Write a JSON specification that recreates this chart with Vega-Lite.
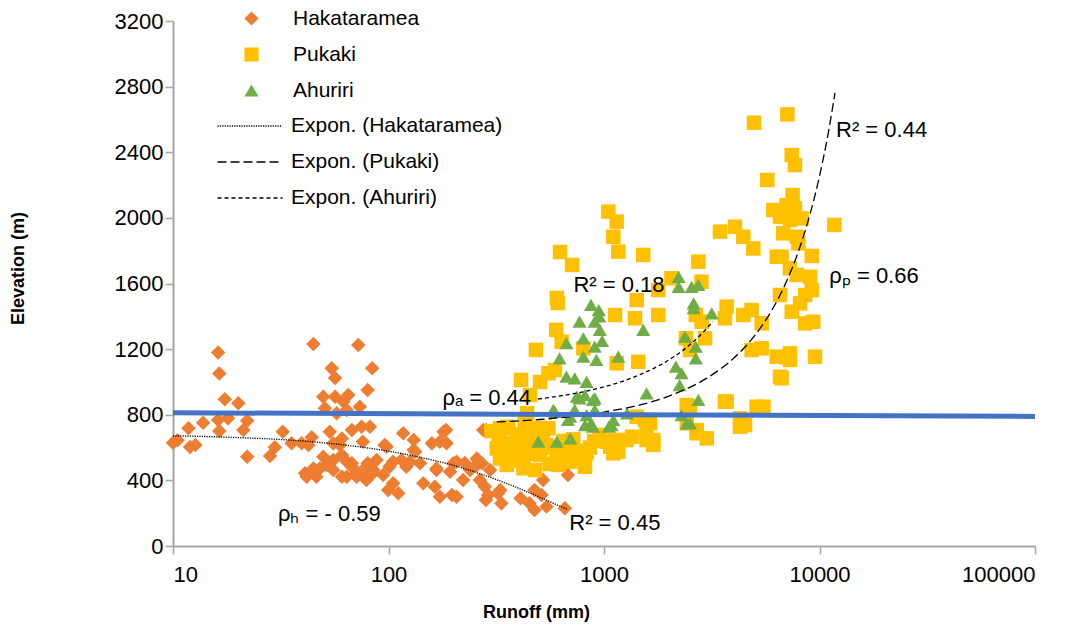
{
"$schema": "https://vega.github.io/schema/vega-lite/v6.json",
"width": 862, "height": 525,
"autosize": {"type": "none"},
"padding": {"left": 173, "top": 21, "right": 49, "bottom": 84},
"background": "white",
"config": {
  "view": {"stroke": null},
  "font": "Liberation Sans",
  "axis": {"grid": false, "domainColor": "#a6a6a6", "domainWidth": 2, "tickColor": "#a6a6a6", "tickWidth": 1.5, "tickSize": 8, "labelFont": "Liberation Sans", "labelFontSize": 22, "labelColor": "#000000", "titleFont": "Liberation Sans", "titleFontSize": 18, "titleFontWeight": "bold", "titleColor": "#000000"},
  "legend": {"title": null, "orient": "none", "padding": 0, "rowPadding": 14, "labelFontSize": 21, "labelFont": "Liberation Sans", "labelColor": "#000000", "labelLimit": 0}
},
"encoding": {
  "x": {"field": "runoff", "type": "quantitative", "scale": {"type": "log", "domain": [10, 100000], "nice": false},
        "axis": {"title": "Runoff (mm)", "values": [10, 100, 1000, 10000, 100000], "format": "d", "labelPadding": 10, "titleX": 363, "titleY": 66, "titleBaseline": "middle", "titleAlign": "center"}},
  "y": {"field": "elev", "type": "quantitative", "scale": {"domain": [0, 3200], "nice": false, "zero": false},
        "axis": {"title": "Elevation (m)", "values": [0, 400, 800, 1200, 1600, 2000, 2400, 2800, 3200], "format": "d", "labelPadding": 2, "titleX": -155, "titleY": 247, "titleBaseline": "middle", "titleAlign": "center"}}
},
"layer": [
  {
    "data": {"values": [{"runoff":10,"elev":630},{"runoff":10.5,"elev":645},{"runoff":11.8,"elev":717},{"runoff":12,"elev":603},{"runoff":12.7,"elev":615},{"runoff":13.8,"elev":751},{"runoff":16.2,"elev":1180},{"runoff":16.4,"elev":1052},{"runoff":17.4,"elev":894},{"runoff":16.2,"elev":768},{"runoff":18,"elev":778},{"runoff":16.4,"elev":701},{"runoff":20.1,"elev":870},{"runoff":22.1,"elev":764},{"runoff":21.2,"elev":707},{"runoff":22.1,"elev":544},{"runoff":28.2,"elev":549},{"runoff":29.7,"elev":602},{"runoff":32.3,"elev":697},{"runoff":35.5,"elev":626},{"runoff":39.5,"elev":626},{"runoff":44,"elev":663},{"runoff":42.5,"elev":616},{"runoff":41,"elev":443},{"runoff":44.8,"elev":1231},{"runoff":49.8,"elev":544},{"runoff":48,"elev":473},{"runoff":53.4,"elev":697},{"runoff":55.4,"elev":626},{"runoff":49.8,"elev":910},{"runoff":50.7,"elev":839},{"runoff":56.5,"elev":910},{"runoff":57.5,"elev":809},{"runoff":54.5,"elev":1083},{"runoff":56.5,"elev":1024},{"runoff":61.7,"elev":880},{"runoff":65,"elev":920},{"runoff":64,"elev":829},{"runoff":60.8,"elev":656},{"runoff":59.5,"elev":616},{"runoff":67.6,"elev":707},{"runoff":73.6,"elev":849},{"runoff":72.4,"elev":1225},{"runoff":84,"elev":1083},{"runoff":80,"elev":951},{"runoff":75,"elev":727},{"runoff":76,"elev":636},{"runoff":82,"elev":727},{"runoff":60.8,"elev":555},{"runoff":55.4,"elev":524},{"runoff":64,"elev":422},{"runoff":67.6,"elev":504},{"runoff":71,"elev":443},{"runoff":79,"elev":402},{"runoff":83.5,"elev":473},{"runoff":41.7,"elev":422},{"runoff":46.3,"elev":422},{"runoff":44.8,"elev":473},{"runoff":51.6,"elev":494},{"runoff":55.4,"elev":463},{"runoff":60.8,"elev":422},{"runoff":64,"elev":514},{"runoff":67.6,"elev":483},{"runoff":71.1,"elev":422},{"runoff":76.2,"elev":463},{"runoff":80,"elev":504},{"runoff":84.6,"elev":443},{"runoff":98,"elev":605},{"runoff":117,"elev":687},{"runoff":131,"elev":646},{"runoff":96,"elev":616},{"runoff":180,"elev":697},{"runoff":159,"elev":626},{"runoff":173,"elev":636},{"runoff":133,"elev":575},{"runoff":131,"elev":585},{"runoff":140,"elev":504},{"runoff":126,"elev":514},{"runoff":115,"elev":524},{"runoff":105,"elev":514},{"runoff":101,"elev":483},{"runoff":121,"elev":483},{"runoff":88,"elev":524},{"runoff":85,"elev":463},{"runoff":94.5,"elev":433},{"runoff":105,"elev":382},{"runoff":111,"elev":321},{"runoff":99.6,"elev":341},{"runoff":145,"elev":382},{"runoff":164,"elev":361},{"runoff":173,"elev":300},{"runoff":167,"elev":463},{"runoff":193,"elev":453},{"runoff":207,"elev":514},{"runoff":197,"elev":311},{"runoff":207,"elev":300},{"runoff":222,"elev":402},{"runoff":239,"elev":463},{"runoff":257,"elev":494},{"runoff":260,"elev":524},{"runoff":275,"elev":707},{"runoff":265,"elev":402},{"runoff":280,"elev":361},{"runoff":290,"elev":311},{"runoff":322,"elev":321},{"runoff":334,"elev":260},{"runoff":283,"elev":280},{"runoff":410,"elev":291},{"runoff":451,"elev":260},{"runoff":476,"elev":219},{"runoff":476,"elev":341},{"runoff":522,"elev":402},{"runoff":513,"elev":311},{"runoff":541,"elev":240},{"runoff":658,"elev":230},{"runoff":680,"elev":433},{"runoff":257,"elev":534},{"runoff":185,"elev":707},{"runoff":284,"elev":707},{"runoff":271,"elev":504},{"runoff":200,"elev":504},{"runoff":186,"elev":626},{"runoff":226,"elev":506},{"runoff":296,"elev":463},{"runoff":330,"elev":341},{"runoff":167,"elev":473}]},
    "mark": {"type": "point", "filled": true, "opacity": 1, "size": 210},
    "encoding": {
      "color": {"datum": "Hakataramea", "type": "nominal", "scale": {"domain": ["Hakataramea", "Pukaki", "Ahuriri"], "range": ["#ED7D31", "#FFC000", "#70AD47"]},
                "legend": {"legendX": 68, "legendY": -13, "labelOffset": 31, "symbolSize": 200, "symbolStrokeWidth": 0, "symbolOpacity": 1}},
      "shape": {"datum": "Hakataramea", "type": "nominal", "scale": {"domain": ["Hakataramea", "Pukaki", "Ahuriri"], "range": ["diamond", "square", "triangle-up"]},
                "legend": {"legendX": 68, "legendY": -13, "labelOffset": 31, "symbolSize": 200, "symbolStrokeWidth": 0, "symbolOpacity": 1}}
    }
  },
  {
    "data": {"values": [{"runoff":625,"elev":1792},{"runoff":711,"elev":1713},{"runoff":604,"elev":1512},{"runoff":610,"elev":1481},{"runoff":600,"elev":1317},{"runoff":483,"elev":1195},{"runoff":412,"elev":1012},{"runoff":505,"elev":1000},{"runoff":454,"elev":920},{"runoff":1047,"elev":2038},{"runoff":1145,"elev":1977},{"runoff":1105,"elev":1885},{"runoff":1165,"elev":1794},{"runoff":1521,"elev":1774},{"runoff":2740,"elev":1733},{"runoff":3452,"elev":1916},{"runoff":4055,"elev":1946},{"runoff":4430,"elev":1885},{"runoff":4931,"elev":1814},{"runoff":6107,"elev":2048},{"runoff":6330,"elev":1763},{"runoff":2055,"elev":1632},{"runoff":2833,"elev":1611},{"runoff":1786,"elev":1560},{"runoff":1418,"elev":1499},{"runoff":1125,"elev":1408},{"runoff":1393,"elev":1388},{"runoff":1786,"elev":1408},{"runoff":2666,"elev":1408},{"runoff":2840,"elev":1367},{"runoff":3707,"elev":1459},{"runoff":3641,"elev":1388},{"runoff":4430,"elev":1408},{"runoff":4842,"elev":1438},{"runoff":5391,"elev":1357},{"runoff":2944,"elev":1266},{"runoff":2506,"elev":1195},{"runoff":4842,"elev":1195},{"runoff":5391,"elev":1205},{"runoff":6330,"elev":1154},{"runoff":1443,"elev":1123},{"runoff":636,"elev":1245},{"runoff":802,"elev":1205},{"runoff":1145,"elev":1114},{"runoff":552,"elev":1053},{"runoff":592,"elev":1073},{"runoff":3641,"elev":880},{"runoff":2421,"elev":859},{"runoff":2692,"elev":707},{"runoff":4276,"elev":727},{"runoff":1549,"elev":768},{"runoff":1576,"elev":687},{"runoff":354,"elev":727},{"runoff":329,"elev":666},{"runoff":380,"elev":626},{"runoff":1418,"elev":788},{"runoff":1633,"elev":748},{"runoff":1693,"elev":646},{"runoff":1693,"elev":616},{"runoff":1576,"elev":646},{"runoff":957,"elev":656},{"runoff":1125,"elev":646},{"runoff":1068,"elev":605},{"runoff":1165,"elev":575},{"runoff":1273,"elev":646},{"runoff":1350,"elev":666},{"runoff":830,"elev":565},{"runoff":816,"elev":483},{"runoff":697,"elev":544},{"runoff":697,"elev":605},{"runoff":650,"elev":524},{"runoff":2506,"elev":849},{"runoff":2692,"elev":687},{"runoff":3000,"elev":656},{"runoff":2421,"elev":748},{"runoff":3707,"elev":880},{"runoff":4276,"elev":778},{"runoff":4510,"elev":737},{"runoff":5108,"elev":849},{"runoff":4966,"elev":2580},{"runoff":7094,"elev":2631},{"runoff":7433,"elev":2383},{"runoff":7695,"elev":2322},{"runoff":5724,"elev":2231},{"runoff":7500,"elev":2139},{"runoff":7038,"elev":2078},{"runoff":7695,"elev":2058},{"runoff":6556,"elev":2007},{"runoff":7291,"elev":1987},{"runoff":8265,"elev":1997},{"runoff":6792,"elev":1906},{"runoff":7834,"elev":1885},{"runoff":7980,"elev":1845},{"runoff":11721,"elev":1957},{"runoff":6668,"elev":1763},{"runoff":9206,"elev":1768},{"runoff":7291,"elev":1693},{"runoff":7834,"elev":1652},{"runoff":9036,"elev":1641},{"runoff":9206,"elev":1560},{"runoff":8578,"elev":1530},{"runoff":6556,"elev":1530},{"runoff":7433,"elev":1428},{"runoff":8128,"elev":1479},{"runoff":8578,"elev":1357},{"runoff":9354,"elev":1367},{"runoff":7291,"elev":1174},{"runoff":7291,"elev":1134},{"runoff":6556,"elev":1032},{"runoff":9527,"elev":1154},{"runoff":5495,"elev":849},{"runoff":6668,"elev":1022},{"runoff":7000,"elev":1150},{"runoff":2400,"elev":1266},{"runoff":329,"elev":717},{"runoff":360,"elev":717},{"runoff":429,"elev":748},{"runoff":440,"elev":809},{"runoff":552,"elev":717},{"runoff":324,"elev":656},{"runoff":318,"elev":595},{"runoff":329,"elev":534},{"runoff":354,"elev":494},{"runoff":380,"elev":616},{"runoff":402,"elev":555},{"runoff":423,"elev":474},{"runoff":479,"elev":463},{"runoff":423,"elev":677},{"runoff":505,"elev":555},{"runoff":541,"elev":616},{"runoff":604,"elev":555},{"runoff":614,"elev":494},{"runoff":697,"elev":514},{"runoff":802,"elev":534},{"runoff":957,"elev":677},{"runoff":1030,"elev":636},{"runoff":1105,"elev":565},{"runoff":360,"elev":600},{"runoff":400,"elev":680},{"runoff":450,"elev":650},{"runoff":470,"elev":560},{"runoff":520,"elev":660},{"runoff":560,"elev":500},{"runoff":580,"elev":600},{"runoff":640,"elev":590},{"runoff":750,"elev":580},{"runoff":300,"elev":700},{"runoff":340,"elev":560},{"runoff":390,"elev":520},{"runoff":430,"elev":600},{"runoff":460,"elev":700},{"runoff":500,"elev":720},{"runoff":650,"elev":640},{"runoff":720,"elev":650},{"runoff":860,"elev":600},{"runoff":900,"elev":640}]},
    "mark": {"type": "point", "filled": true, "opacity": 1, "size": 210},
    "encoding": {
      "color": {"datum": "Pukaki", "type": "nominal"},
      "shape": {"datum": "Pukaki", "type": "nominal"}
    }
  },
  {
    "data": {"values": [{"runoff":496,"elev":636},{"runoff":604,"elev":636},{"runoff":697,"elev":656},{"runoff":592,"elev":818},{"runoff":680,"elev":768},{"runoff":731,"elev":829},{"runoff":770,"elev":900},{"runoff":889,"elev":890},{"runoff":906,"elev":829},{"runoff":816,"elev":737},{"runoff":870,"elev":748},{"runoff":1053,"elev":727},{"runoff":1105,"elev":768},{"runoff":870,"elev":1469},{"runoff":946,"elev":1438},{"runoff":770,"elev":1367},{"runoff":906,"elev":1367},{"runoff":957,"elev":1317},{"runoff":802,"elev":1266},{"runoff":669,"elev":1236},{"runoff":906,"elev":1215},{"runoff":802,"elev":1154},{"runoff":622,"elev":1144},{"runoff":922,"elev":1134},{"runoff":1165,"elev":1154},{"runoff":1521,"elev":1317},{"runoff":2219,"elev":1641},{"runoff":2219,"elev":1580},{"runoff":2553,"elev":1580},{"runoff":2740,"elev":1591},{"runoff":2606,"elev":1479},{"runoff":2606,"elev":1450},{"runoff":3162,"elev":1418},{"runoff":2377,"elev":1276},{"runoff":2666,"elev":1215},{"runoff":2666,"elev":1144},{"runoff":2155,"elev":1093},{"runoff":2289,"elev":1053},{"runoff":2243,"elev":981},{"runoff":1576,"elev":930},{"runoff":2740,"elev":890},{"runoff":669,"elev":1032},{"runoff":731,"elev":1022},{"runoff":830,"elev":1001},{"runoff":748,"elev":910},{"runoff":816,"elev":920},{"runoff":906,"elev":900},{"runoff":582,"elev":829},{"runoff":697,"elev":788},{"runoff":830,"elev":798},{"runoff":889,"elev":727},{"runoff":1083,"elev":737},{"runoff":1280,"elev":809},{"runoff":2289,"elev":798},{"runoff":2421,"elev":748},{"runoff":2506,"elev":748},{"runoff":950,"elev":1400},{"runoff":980,"elev":1250}]},
    "mark": {"type": "point", "filled": true, "opacity": 1, "size": 200},
    "encoding": {
      "color": {"datum": "Ahuriri", "type": "nominal"},
      "shape": {"datum": "Ahuriri", "type": "nominal"}
    }
  },
  {
    "data": {"values": [{"runoff":10,"elev":672},{"runoff":20,"elev":661},{"runoff":40,"elev":640},{"runoff":70,"elev":608},{"runoff":100,"elev":578},{"runoff":150,"elev":532},{"runoff":200,"elev":492},{"runoff":300,"elev":416},{"runoff":400,"elev":353},{"runoff":500,"elev":299},{"runoff":600,"elev":253},{"runoff":680,"elev":222}]},
    "mark": {"type": "line", "color": "#000000", "strokeWidth": 1.3, "interpolate": "monotone"},
    "encoding": {
      "strokeDash": {"datum": "Expon. (Hakataramea)", "type": "nominal",
        "scale": {"domain": ["Expon. (Hakataramea)", "Expon. (Pukaki)", "Expon. (Ahuriri)"], "range": [[1.2, 1.2], [9, 4], [4, 3]]},
        "legend": {"legendX": 63, "legendY": 91, "labelOffset": 27, "rowPadding": 12, "symbolType": "M-2.5,0L2.5,0", "symbolSize": 676, "symbolStrokeColor": "#000000", "symbolStrokeWidth": 1.3}}
    }
  },
  {
    "data": {"values": [{"runoff":318,"elev":756},{"runoff":500,"elev":771},{"runoff":1000,"elev":816},{"runoff":2000,"elev":914},{"runoff":3000,"elev":1023},{"runoff":4000,"elev":1145},{"runoff":5000,"elev":1282},{"runoff":6000,"elev":1435},{"runoff":7000,"elev":1607},{"runoff":8000,"elev":1799},{"runoff":9000,"elev":2014},{"runoff":10000,"elev":2254},{"runoff":11000,"elev":2523},{"runoff":11800,"elev":2762}]},
    "mark": {"type": "line", "color": "#000000", "strokeWidth": 1.3, "interpolate": "monotone"},
    "encoding": {
      "strokeDash": {"datum": "Expon. (Pukaki)", "type": "nominal"}
    }
  },
  {
    "data": {"values": [{"runoff":494,"elev":896},{"runoff":600,"elev":911},{"runoff":800,"elev":940},{"runoff":1000,"elev":970},{"runoff":1300,"elev":1017},{"runoff":1600,"elev":1066},{"runoff":2000,"elev":1134},{"runoff":2500,"elev":1226},{"runoff":3000,"elev":1327},{"runoff":3200,"elev":1369}]},
    "mark": {"type": "line", "color": "#000000", "strokeWidth": 1.3, "interpolate": "monotone"},
    "encoding": {
      "strokeDash": {"datum": "Expon. (Ahuriri)", "type": "nominal"}
    }
  },
  {
    "data": {"values": [{"runoff":10,"elev":812},{"runoff":100000,"elev":790}]},
    "mark": {"type": "line", "color": "#4472C4", "strokeWidth": 5},
    "encoding": {}
  },
  {
    "data": {"values": [
      {"runoff": 690, "elev": 97, "label": "R² = 0.45"},
      {"runoff": 30.7, "elev": 152, "label": "ρₕ = - 0.59"},
      {"runoff": 178, "elev": 859, "label": "ρₐ = 0.44"},
      {"runoff": 721, "elev": 1550, "label": "R² = 0.18"},
      {"runoff": 11930, "elev": 2495, "label": "R² = 0.44"},
      {"runoff": 11104, "elev": 1601, "label": "ρₚ = 0.66"}
    ]},
    "mark": {"type": "text", "align": "left", "baseline": "alphabetic", "fontSize": 22, "font": "Liberation Sans", "color": "#000000"},
    "encoding": {
      "text": {"field": "label", "type": "nominal"}
    }
  }
]
}
